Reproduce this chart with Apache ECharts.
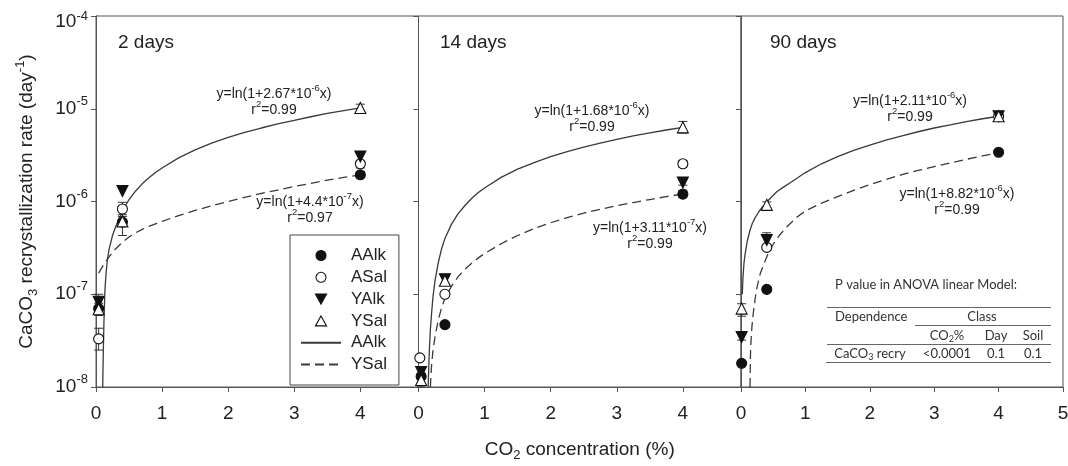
<!DOCTYPE html>
<html>
<head>
<meta charset="utf-8">
<script src="https://cdn.jsdelivr.net/npm/echarts@6/dist/echarts.min.js"></script>
<style>
  html, body { margin: 0; padding: 0; background: #fff; }
  #chart { width: 1068px; height: 466px; }
</style>
</head>
<body>
<div id="chart"></div>
<script>
// ---- data: recrystallization rate (day^-1) vs CO2 (%), one entry per incubation time ----
const panelTitles = ['2 days', '14 days', '90 days'];

const aalk = [
  [[0.04, 7.0e-8], [0.4, 6.0e-7], [4, 1.94e-6]],
  [[0.04, 1.3e-8], [0.4, 4.7e-8], [4, 1.2e-6]],
  [[0.01, 1.8e-8], [0.4, 1.13e-7], [4, 3.4e-6]]
];
const asal = [
  [[0.04, 3.3e-8], [0.4, 8.3e-7], [4, 2.55e-6]],
  [[0.02, 2.06e-8], [0.4, 1.0e-7], [4, 2.55e-6]],
  [[0.4, 3.2e-7], [4, 8.3e-6]]
];
const yalk = [
  [[0.04, 8.3e-8], [0.4, 1.3e-6], [4, 3.05e-6]],
  [[0.04, 1.45e-8], [0.4, 1.45e-7], [4, 1.6e-6]],
  [[0.01, 3.46e-8], [0.4, 3.85e-7], [4, 8.3e-6]]
];
const ysal = [
  [[0.04, 6.9e-8], [0.4, 6.1e-7], [4, 1.02e-5]],
  [[0.04, 1.19e-8], [0.4, 1.4e-7], [4, 6.3e-6]],
  [[0.01, 7.0e-8], [0.4, 9.2e-7], [4, 8.3e-6]]
];

// error bars: [CO2, lower, upper]
const errorBars = [
  [[0.04, 7.2e-8, 1.0e-7], [0.04, 5.9e-8, 8.0e-8], [0.04, 2.5e-8, 4.3e-8],
   [0.4, 6.9e-7, 9.8e-7], [0.4, 4.3e-7, 7.2e-7],
   [4, 9.2e-6, 1.12e-5], [4, 2.3e-6, 3.3e-6], [4, 1.8e-6, 2.1e-6]],
  [[0.04, 1.0e-8, 1.4e-8], [0.4, 1.26e-7, 1.56e-7],
   [4, 5.47e-6, 7.3e-6], [4, 2.35e-6, 2.75e-6], [4, 1.5e-6, 1.72e-6], [4, 1.1e-6, 1.32e-6]],
  [[0.01, 5.8e-8, 7.9e-8], [0.01, 3.2e-8, 3.7e-8], [0.01, 1.7e-8, 1.9e-8],
   [0.4, 8.5e-7, 9.9e-7], [0.4, 3.4e-7, 4.6e-7], [0.4, 1.05e-7, 1.2e-7],
   [4, 7.9e-6, 8.6e-6]]
];

// fitted curves (solid: AAlk, dashed: YSal)
const fitSolid = [
  [[0.102, 1.0e-8], [0.106, 1.6e-8], [0.11, 2.3e-8], [0.12, 5.0e-8], [0.135, 1.1e-7],
   [0.15, 1.6e-7], [0.17, 2.3e-7], [0.2, 3.1e-7], [0.25, 4.3e-7], [0.3, 5.4e-7],
   [0.4, 7.9e-7], [0.5, 1.05e-6], [0.6, 1.3e-6], [0.7, 1.55e-6], [0.8, 1.8e-6],
   [0.9, 2.05e-6], [1.0, 2.3e-6], [1.25, 2.95e-6], [1.5, 3.6e-6], [1.75, 4.25e-6],
   [2.0, 4.9e-6], [2.25, 5.55e-6], [2.5, 6.2e-6], [2.75, 6.85e-6], [3.0, 7.5e-6],
   [3.25, 8.2e-6], [3.5, 8.9e-6], [3.75, 9.55e-6], [4.0, 1.02e-5]],
  [[0.146, 1.0e-8], [0.155, 1.6e-8], [0.165, 2.6e-8], [0.18, 4.2e-8], [0.2, 6.5e-8],
   [0.22, 9.5e-8], [0.25, 1.4e-7], [0.3, 2.2e-7], [0.35, 3.1e-7], [0.4, 4.0e-7],
   [0.5, 5.7e-7], [0.6, 7.4e-7], [0.7, 9.0e-7], [0.8, 1.07e-6], [0.9, 1.24e-6],
   [1.0, 1.4e-6], [1.25, 1.82e-6], [1.5, 2.23e-6], [1.75, 2.63e-6], [2.0, 3.05e-6],
   [2.25, 3.45e-6], [2.5, 3.86e-6], [2.75, 4.27e-6], [3.0, 4.68e-6], [3.25, 5.1e-6],
   [3.5, 5.5e-6], [3.75, 5.9e-6], [4.0, 6.3e-6]],
  [[0.02, 1.0e-7], [0.03, 1.5e-7], [0.047, 2.2e-7], [0.07, 2.9e-7], [0.1, 3.8e-7],
   [0.14, 4.9e-7], [0.175, 5.8e-7], [0.22, 6.7e-7], [0.28, 7.8e-7], [0.33, 8.7e-7],
   [0.38, 9.5e-7], [0.47, 1.11e-6], [0.56, 1.28e-6], [0.66, 1.43e-6], [0.77, 1.6e-6],
   [0.88, 1.8e-6], [1.0, 2.05e-6], [1.25, 2.55e-6], [1.5, 3.05e-6], [1.75, 3.55e-6],
   [2.0, 4.05e-6], [2.25, 4.6e-6], [2.5, 5.1e-6], [2.75, 5.65e-6], [3.0, 6.2e-6],
   [3.25, 6.7e-6], [3.5, 7.25e-6], [3.75, 7.8e-6], [4.0, 8.3e-6]]
];
const fitDashed = [
  [[0.04, 1.69e-7], [0.1, 2.0e-7], [0.2, 2.55e-7], [0.3, 3.1e-7], [0.4, 3.65e-7],
   [0.5, 4.15e-7], [0.6, 4.6e-7], [0.7, 5.0e-7], [0.8, 5.4e-7], [0.9, 5.75e-7],
   [1.0, 6.1e-7], [1.25, 7.05e-7], [1.5, 8.0e-7], [1.75, 9.0e-7], [2.0, 1.0e-6],
   [2.25, 1.11e-6], [2.5, 1.22e-6], [2.75, 1.33e-6], [3.0, 1.45e-6], [3.25, 1.57e-6],
   [3.5, 1.7e-6], [3.75, 1.82e-6], [4.0, 1.94e-6]],
  [[0.18, 1.0e-8], [0.19, 1.4e-8], [0.2, 1.8e-8], [0.22, 2.5e-8], [0.25, 3.5e-8],
   [0.3, 5.3e-8], [0.35, 7.2e-8], [0.4, 9.0e-8], [0.5, 1.22e-7], [0.6, 1.55e-7],
   [0.7, 1.85e-7], [0.8, 2.15e-7], [0.9, 2.45e-7], [1.0, 2.75e-7], [1.25, 3.5e-7],
   [1.5, 4.3e-7], [1.75, 5.1e-7], [2.0, 5.9e-7], [2.25, 6.7e-7], [2.5, 7.5e-7],
   [2.75, 8.25e-7], [3.0, 9.0e-7], [3.25, 9.75e-7], [3.5, 1.05e-6], [3.75, 1.13e-6],
   [4.0, 1.2e-6]],
  [[0.14, 1.0e-8], [0.145, 1.8e-8], [0.15, 2.7e-8], [0.17, 4.5e-8], [0.19, 6.2e-8],
   [0.22, 9.0e-8], [0.25, 1.2e-7], [0.3, 1.68e-7], [0.36, 2.15e-7], [0.43, 2.85e-7],
   [0.51, 3.55e-7], [0.6, 4.35e-7], [0.72, 5.4e-7], [0.87, 6.8e-7], [1.0, 7.9e-7],
   [1.25, 9.6e-7], [1.5, 1.13e-6], [1.75, 1.32e-6], [2.0, 1.52e-6], [2.25, 1.73e-6],
   [2.5, 1.95e-6], [2.75, 2.16e-6], [3.0, 2.38e-6], [3.25, 2.6e-6], [3.5, 2.85e-6],
   [3.75, 3.1e-6], [4.0, 3.37e-6]]
];

// fit equations per panel: [coefficient, exponent, r²]
const solidEqn = [['2.67', '-6', '0.99'], ['1.68', '-6', '0.99'], ['2.11', '-6', '0.99']];
const dashedEqn = [['4.4', '-7', '0.97'], ['3.11', '-7', '0.99'], ['8.82', '-6', '0.99']];

// ANOVA summary table
const anovaTitle = 'P value in ANOVA linear Model:';
const anovaHeader = ['Dependence', 'Class'];
const anovaClasses = ['CO{s|2}%', 'Day', 'Soil'];
const anovaRow = ['CaCO{s|3} recry', '<0.0001', '0.1', '0.1'];

// ---- layout ----
const FONT = '"Liberation Sans", Arial, Helvetica, sans-serif';
const TABLE_FONT = 'Lato, "Open Sans", sans-serif';
const INK = '#222';
const FRAME = '#555';
const CURVE = '#3a3a3a';

const grids = [
  { left: 96, top: 16, width: 322.5, height: 371 },
  { left: 418.5, top: 16, width: 322.5, height: 371 },
  { left: 741, top: 16, width: 322, height: 371 }
];
const xMax = [4.88, 4.88, 5];
const titleAnchors = [[118, 43], [440, 43], [770, 43]];
const solidAnchors = [[274, 94], [592, 111], [910, 101]];
const dashedAnchors = [[310, 202], [650, 228], [957, 194]];

// triangle outlines used for the legend keys (kept square inside the wide key box)
const TRI_DOWN = 'path://M0,0L10,0L5,9Z';
const TRI_UP = 'path://M5,0L10,9L0,9Z';

const markers = [
  { name: 'AAlk', data: aalk, symbol: 'circle', size: 10, fill: '#111', rotate: 0, key: 'circle' },
  { name: 'ASal', data: asal, symbol: 'circle', size: 10, fill: '#fff', rotate: 0, key: 'circle' },
  { name: 'YAlk', data: yalk, symbol: 'triangle', size: 11, fill: '#111', rotate: 180, key: TRI_DOWN },
  { name: 'YSal', data: ysal, symbol: 'triangle', size: 11, fill: '#fff', rotate: 0, key: TRI_UP }
];

function renderErrorBar(params, api) {
  const x = api.value(0);
  const lo = api.coord([x, api.value(1)]);
  const hi = api.coord([x, api.value(2)]);
  const w = 4.5;
  const st = { stroke: '#333', lineWidth: 1 };
  return {
    type: 'group',
    children: [
      { type: 'line', shape: { x1: lo[0], y1: lo[1], x2: hi[0], y2: hi[1] }, style: st },
      { type: 'line', shape: { x1: lo[0] - w, y1: lo[1], x2: lo[0] + w, y2: lo[1] }, style: st },
      { type: 'line', shape: { x1: hi[0] - w, y1: hi[1], x2: hi[0] + w, y2: hi[1] }, style: st }
    ]
  };
}

function yLabel(v) {
  const e = Math.round(Math.log10(v));
  return e === -4 ? '{bt|10}{st|' + e + '}' : '{b|10}{s|' + e + '}';
}

const series = [];
for (let p = 0; p < 3; p++) {
  series.push({
    type: 'custom', name: 'err' + p, xAxisIndex: p, yAxisIndex: p,
    data: errorBars[p], encode: { x: 0, y: [1, 2] },
    renderItem: renderErrorBar, z: 2, silent: true
  });
  series.push({
    type: 'line', name: 'AAlk fit', xAxisIndex: p, yAxisIndex: p,
    data: fitSolid[p], symbol: 'none', smooth: false,
    lineStyle: { color: CURVE, width: 1.3 }, itemStyle: { color: 'rgba(0,0,0,0)', borderWidth: 0 }, z: 3
  });
  series.push({
    type: 'line', name: 'YSal fit', xAxisIndex: p, yAxisIndex: p,
    data: fitDashed[p], symbol: 'none', smooth: false,
    lineStyle: { color: CURVE, width: 1.3, type: [9, 5] }, itemStyle: { color: 'rgba(0,0,0,0)', borderWidth: 0 }, z: 3
  });
  markers.forEach(m => {
    series.push({
      type: 'scatter', name: m.name, xAxisIndex: p, yAxisIndex: p,
      data: m.data[p], symbol: m.symbol, symbolSize: m.size, symbolRotate: m.rotate,
      itemStyle: { color: m.fill, borderColor: '#111', borderWidth: 1.1, opacity: 1 }, z: 4
    });
  });
}

const supStyle = { fontSize: 9.5, lineHeight: 9.5, verticalAlign: 'top', fontFamily: FONT, fill: INK };
function eqnText(x, y, str) {
  return {
    type: 'text', x: x, y: y, silent: true,
    style: {
      text: str, fontFamily: FONT, fontSize: 14, lineHeight: 21, fill: INK,
      align: 'center', verticalAlign: 'middle',
      rich: { u: supStyle }
    }
  };
}

const graphic = [];
for (let p = 0; p < 3; p++) {
  graphic.push({
    type: 'text', x: titleAnchors[p][0], y: titleAnchors[p][1], silent: true,
    style: { text: panelTitles[p], fontFamily: FONT, fontSize: 19, fill: INK, align: 'left', verticalAlign: 'middle' }
  });
  const s = solidEqn[p], d = dashedEqn[p];
  graphic.push(eqnText(solidAnchors[p][0], solidAnchors[p][1], 'y=ln(1+' + s[0] + '*10{u|' + s[1] + '}x)'));
  graphic.push(eqnText(solidAnchors[p][0], solidAnchors[p][1] + 16, 'r{u|2}=' + s[2]));
  graphic.push(eqnText(dashedAnchors[p][0], dashedAnchors[p][1], 'y=ln(1+' + d[0] + '*10{u|' + d[1] + '}x)'));
  graphic.push(eqnText(dashedAnchors[p][0], dashedAnchors[p][1] + 16, 'r{u|2}=' + d[2]));
}

// ANOVA table
const subT = { fontSize: 9, lineHeight: 9, verticalAlign: 'bottom', fontFamily: TABLE_FONT, fill: '#333' };
function tableText(x, y, str, align) {
  return {
    type: 'text', x: x, y: y, silent: true,
    style: {
      text: str, fontFamily: TABLE_FONT, fontSize: 13, lineHeight: 16, fill: '#333',
      align: align || 'center', verticalAlign: 'middle', rich: { s: subT }
    }
  };
}
function rule(x1, x2, y) {
  return { type: 'line', silent: true, shape: { x1: x1, y1: y, x2: x2, y2: y }, style: { stroke: '#666', lineWidth: 1 } };
}
const colX = [947, 996, 1033];
graphic.push(tableText(835, 285, anovaTitle, 'left'));
graphic.push(rule(827, 1051, 307.5));
graphic.push(tableText(835, 317, anovaHeader[0], 'left'));
graphic.push(tableText(982, 317, anovaHeader[1]));
graphic.push(rule(915, 1051, 325.5));
anovaClasses.forEach((c, i) => graphic.push(tableText(colX[i], 336, c)));
graphic.push(rule(827, 1051, 344.5));
graphic.push(tableText(870, 354, anovaRow[0]));
anovaRow.slice(1).forEach((c, i) => graphic.push(tableText(colX[i], 354, c)));
graphic.push(rule(826, 1051, 362.5));

const legendItems = markers.map(m => ({ name: m.name, icon: m.key, itemStyle: { borderWidth: 1.1 } }))
  .concat([{ name: 'AAlk fit' }, { name: 'YSal fit' }]);

const option = {
  animation: false,
  backgroundColor: '#fff',
  grid: grids.map(g => Object.assign({
    show: true, borderColor: FRAME, borderWidth: 1, backgroundColor: 'transparent',
    containLabel: false, outerBoundsMode: 'none'
  }, g)),
  xAxis: grids.map((g, i) => ({
    type: 'value', gridIndex: i, min: 0, max: xMax[i], interval: 1,
    axisLine: { show: true, onZero: false, lineStyle: { color: FRAME, width: 1 } },
    axisTick: { show: true, inside: false, length: 5, lineStyle: { color: FRAME } },
    axisLabel: {
      fontFamily: FONT, fontSize: 19, color: INK, margin: 17,
      formatter: v => (Math.abs(v - Math.round(v)) < 1e-9 ? String(Math.round(v)) : '')
    },
    splitLine: { show: false },
    name: i === 1 ? 'CO{sub|2} concentration (%)' : '',
    nameLocation: 'middle', nameGap: 51,
    nameTextStyle: {
      fontFamily: FONT, fontSize: 19, color: INK, lineHeight: 24,
      rich: { sub: { fontFamily: FONT, fontSize: 13, lineHeight: 12, verticalAlign: 'bottom', color: INK } }
    }
  })),
  yAxis: grids.map((g, i) => ({
    type: 'log', logBase: 10, gridIndex: i, min: 1e-8, max: 1e-4,
    axisLine: { show: true, lineStyle: { color: FRAME, width: 1 } },
    axisTick: { show: true, inside: false, length: 5, lineStyle: { color: FRAME } },
    minorTick: { show: false },
    splitLine: { show: false },
    axisLabel: {
      show: i === 0, margin: 8, formatter: yLabel,
      rich: {
        b: { fontFamily: FONT, fontSize: 19, lineHeight: 28, color: INK },
        s: { fontFamily: FONT, fontSize: 13, lineHeight: 13, verticalAlign: 'top', color: INK },
        bt: { fontFamily: FONT, fontSize: 19, lineHeight: 19, verticalAlign: 'bottom', color: INK },
        st: { fontFamily: FONT, fontSize: 13, lineHeight: 30, color: INK }
      }
    },
    name: i === 0 ? 'CaCO{sub|3} recrystallization rate (day{sup|-1})' : '',
    nameLocation: 'middle', nameGap: 56, nameRotate: 90,
    nameTextStyle: {
      fontFamily: FONT, fontSize: 19, color: INK, lineHeight: 26,
      rich: {
        sub: { fontFamily: FONT, fontSize: 13, lineHeight: 13, verticalAlign: 'bottom', color: INK },
        sup: { fontFamily: FONT, fontSize: 13, lineHeight: 13, verticalAlign: 'top', color: INK }
      }
    }
  })),
  legend: {
    orient: 'vertical', left: 290, top: 235,
    data: legendItems,
    formatter: n => n.replace(' fit', ''),
    itemWidth: 40, itemHeight: 10, itemGap: 4.8,
    symbolKeepAspect: true,
    padding: [12, 12, 12, 10],
    borderColor: '#444', borderWidth: 1, backgroundColor: '#fff',
    selectedMode: false,
    textStyle: { fontFamily: FONT, fontSize: 17, color: INK, lineHeight: 16, padding: [0, 0, 0, 5] }
  },
  graphic: graphic,
  series: series
};

const chart = echarts.init(document.getElementById('chart'));
chart.setOption(option);
</script>
</body>
</html>
